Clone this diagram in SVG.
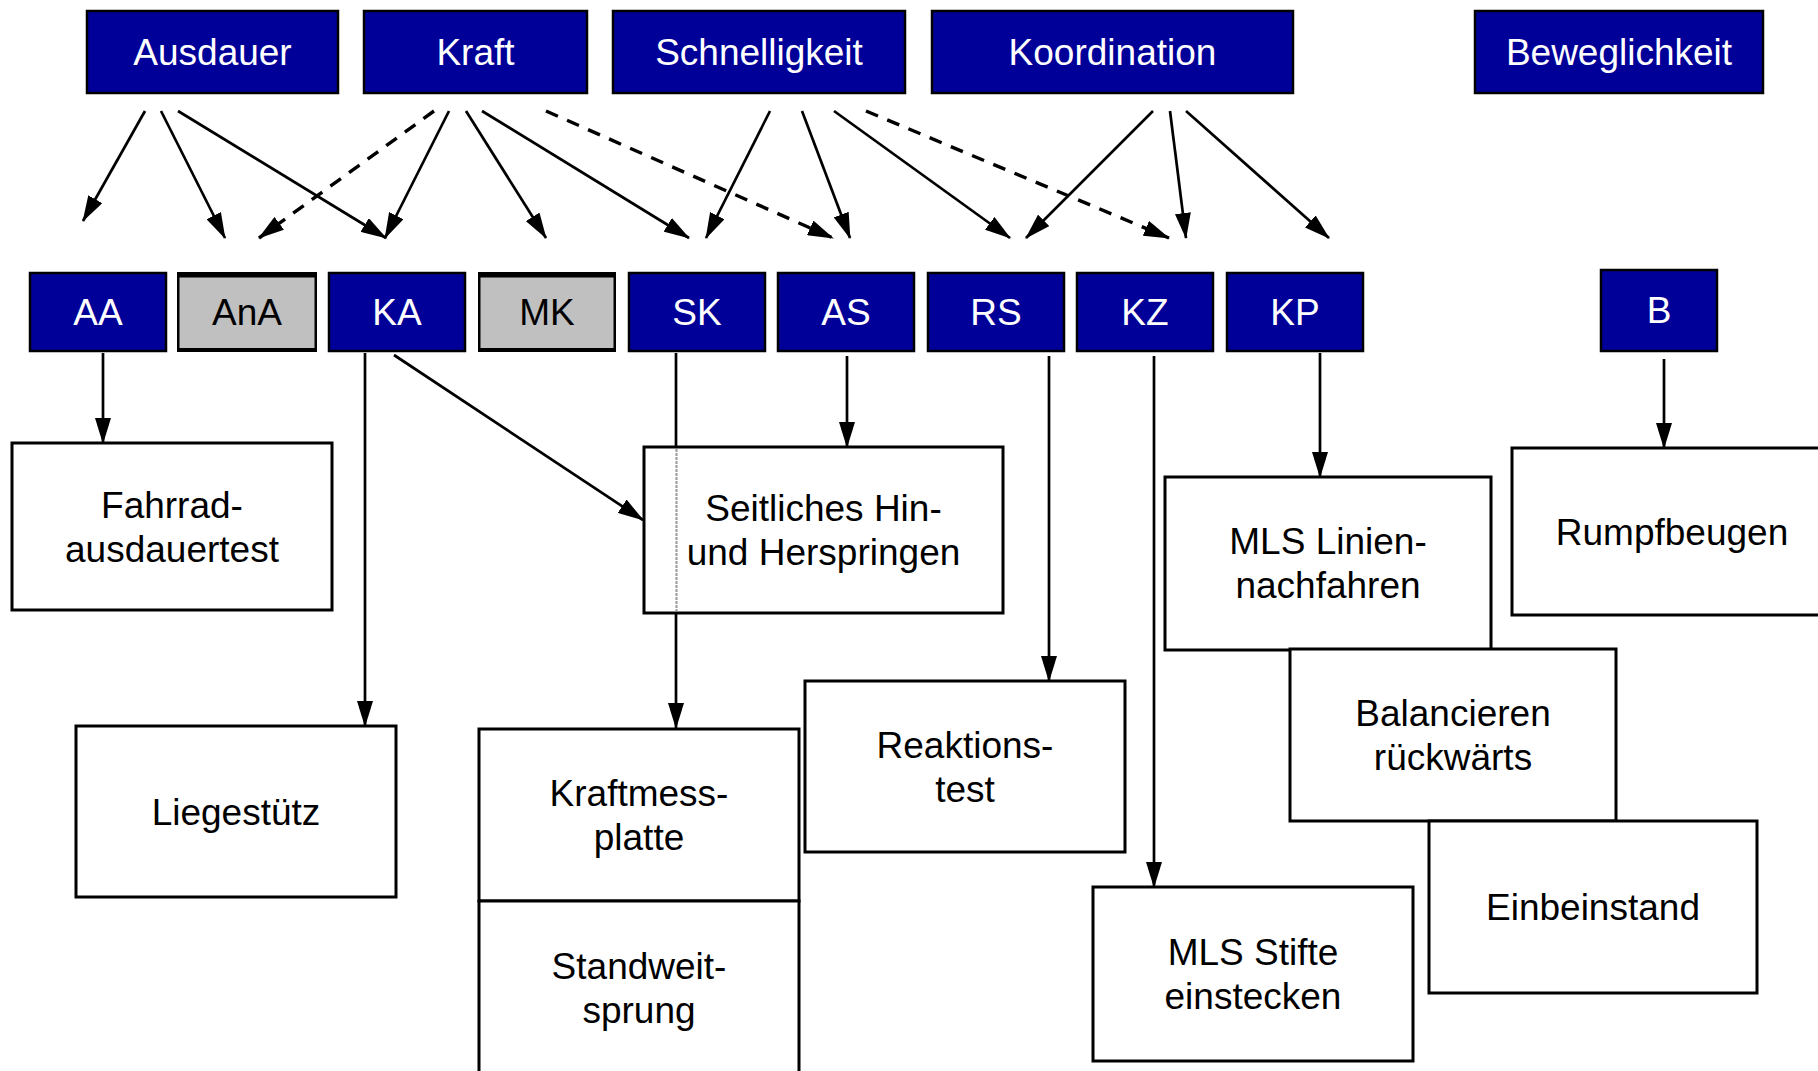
<svg xmlns="http://www.w3.org/2000/svg" width="1818" height="1071" viewBox="0 0 1818 1071">
<defs>
<style>
text{font-family:"Liberation Sans",Arial,sans-serif;font-size:37px;text-anchor:middle}
.top rect,.abbr rect{fill:#000099;stroke:#000;stroke-width:2.5}
.top text,.abbr text{fill:#fff}
.grey rect.o{fill:#000;stroke:none}
.grey rect.i{fill:#c0c0c0;stroke:none}
.grey text{fill:#000}
.test rect{fill:#fff;stroke:#000;stroke-width:3}
.test text{fill:#000}
#connectors path{fill:none;stroke:#000;stroke-width:2.7}
#connectors path.d{stroke-width:3.4;stroke-dasharray:13 10}
#connectors path.ghost{stroke:#a0a0a0;stroke-width:2.2;stroke-dasharray:3 1}
</style>
<marker id="ah" markerUnits="userSpaceOnUse" markerWidth="26" markerHeight="16" refX="25" refY="8" orient="auto" viewBox="0 0 26 16">
<path d="M0,0 L26,8 L0,16 z" fill="#000"/>
</marker>
</defs>
<rect x="0" y="0" width="1818" height="1071" fill="#fff"/>

<g id="n-ausdauer" class="top"><rect x="87" y="11" width="251" height="82"/><text x="212.5" y="65">Ausdauer</text></g>
<g id="n-kraft" class="top"><rect x="364" y="11" width="223" height="82"/><text x="475.5" y="65">Kraft</text></g>
<g id="n-schnelligkeit" class="top"><rect x="613" y="11" width="292" height="82"/><text x="759" y="65">Schnelligkeit</text></g>
<g id="n-koordination" class="top"><rect x="932" y="11" width="361" height="82"/><text x="1112.5" y="65">Koordination</text></g>
<g id="n-beweglichkeit" class="top"><rect x="1475" y="11" width="288" height="82"/><text x="1619" y="65">Beweglichkeit</text></g>

<g id="n-aa" class="abbr"><rect x="30" y="273" width="136" height="78"/><text x="98" y="325">AA</text></g>
<g id="n-ana" class="grey"><rect class="o" x="177" y="272" width="140" height="80"/><rect class="i" x="179.5" y="277.5" width="135" height="70.5"/><text x="247" y="325">AnA</text></g>
<g id="n-ka" class="abbr"><rect x="329" y="273" width="136" height="78"/><text x="397" y="325">KA</text></g>
<g id="n-mk" class="grey"><rect class="o" x="478" y="272" width="138" height="80"/><rect class="i" x="480.5" y="277.5" width="133" height="70.5"/><text x="547" y="325">MK</text></g>
<g id="n-sk" class="abbr"><rect x="629" y="273" width="136" height="78"/><text x="697" y="325">SK</text></g>
<g id="n-as" class="abbr"><rect x="778" y="273" width="136" height="78"/><text x="846" y="325">AS</text></g>
<g id="n-rs" class="abbr"><rect x="928" y="273" width="136" height="78"/><text x="996" y="325">RS</text></g>
<g id="n-kz" class="abbr"><rect x="1077" y="273" width="136" height="78"/><text x="1145" y="325">KZ</text></g>
<g id="n-kp" class="abbr"><rect x="1227" y="273" width="136" height="78"/><text x="1295" y="325">KP</text></g>
<g id="n-b" class="abbr"><rect x="1601" y="270" width="116" height="81"/><text x="1659" y="323">B</text></g>

<g id="n-fahrrad" class="test"><rect x="12" y="443" width="320" height="167"/><text x="172" y="518">Fahrrad-</text><text x="172" y="562">ausdauertest</text></g>
<g id="n-seitliches" class="test"><rect x="644" y="447" width="359" height="166"/><text x="823.5" y="521">Seitliches Hin-</text><text x="823.5" y="565">und Herspringen</text></g>
<g id="n-mlslinien" class="test"><rect x="1165" y="477" width="326" height="173"/><text x="1328" y="554">MLS Linien-</text><text x="1328" y="598">nachfahren</text></g>
<g id="n-rumpfbeugen" class="test"><rect x="1512" y="448" width="320" height="167"/><text x="1672" y="544.5">Rumpfbeugen</text></g>
<g id="n-liegestuetz" class="test"><rect x="76" y="726" width="320" height="171"/><text x="236" y="824.5">Liegestütz</text></g>
<g id="n-kraftmess" class="test"><rect x="479" y="729" width="320" height="172"/><text x="639" y="806">Kraftmess-</text><text x="639" y="850">platte</text></g>
<g id="n-standweit" class="test"><rect x="479" y="901" width="320" height="174"/><text x="639" y="979">Standweit-</text><text x="639" y="1023">sprung</text></g>
<g id="n-reaktions" class="test"><rect x="805" y="681" width="320" height="171"/><text x="965" y="757.5">Reaktions-</text><text x="965" y="801.5">test</text></g>
<g id="n-balancieren" class="test"><rect x="1290" y="649" width="326" height="172"/><text x="1453" y="726">Balancieren</text><text x="1453" y="770">rückwärts</text></g>
<g id="n-einbeinstand" class="test"><rect x="1429" y="821" width="328" height="172"/><text x="1593" y="920">Einbeinstand</text></g>
<g id="n-mlsstifte" class="test"><rect x="1093" y="887" width="320" height="174"/><text x="1253" y="965">MLS Stifte</text><text x="1253" y="1009">einstecken</text></g>

<g id="connectors">
<path d="M145,111 L83,221" marker-end="url(#ah)"/>
<path d="M161,111 L225,238" marker-end="url(#ah)"/>
<path d="M178,111 L386,238" marker-end="url(#ah)"/>
<path class="d" d="M434,111 L259,238" marker-end="url(#ah)"/>
<path d="M449,111 L385,238" marker-end="url(#ah)"/>
<path d="M466,111 L546,238" marker-end="url(#ah)"/>
<path d="M482,111 L689,238" marker-end="url(#ah)"/>
<path class="d" d="M546,111 L833,238" marker-end="url(#ah)"/>
<path d="M770,111 L706,238" marker-end="url(#ah)"/>
<path d="M802,111 L850,238" marker-end="url(#ah)"/>
<path d="M834,111 L1010,238" marker-end="url(#ah)"/>
<path class="d" d="M866,111 L1169,238" marker-end="url(#ah)"/>
<path d="M1153,111 L1026,238" marker-end="url(#ah)"/>
<path d="M1170,111 L1186,238" marker-end="url(#ah)"/>
<path d="M1186,111 L1329,238" marker-end="url(#ah)"/>

<path d="M103,353 L103,443" marker-end="url(#ah)"/>
<path d="M365,353 L365,726" marker-end="url(#ah)"/>
<path d="M394,355 L643,520" marker-end="url(#ah)"/>
<path d="M676,353 L676,447 M676,613 L676,728" marker-end="url(#ah)"/>
<path class="ghost" d="M676.5,449 L676.5,611"/>
<path d="M847,356 L847,447" marker-end="url(#ah)"/>
<path d="M1049,356 L1049,681" marker-end="url(#ah)"/>
<path d="M1154,356 L1154,887" marker-end="url(#ah)"/>
<path d="M1320,353 L1320,477" marker-end="url(#ah)"/>
<path d="M1664,359 L1664,448" marker-end="url(#ah)"/>
</g>
</svg>
